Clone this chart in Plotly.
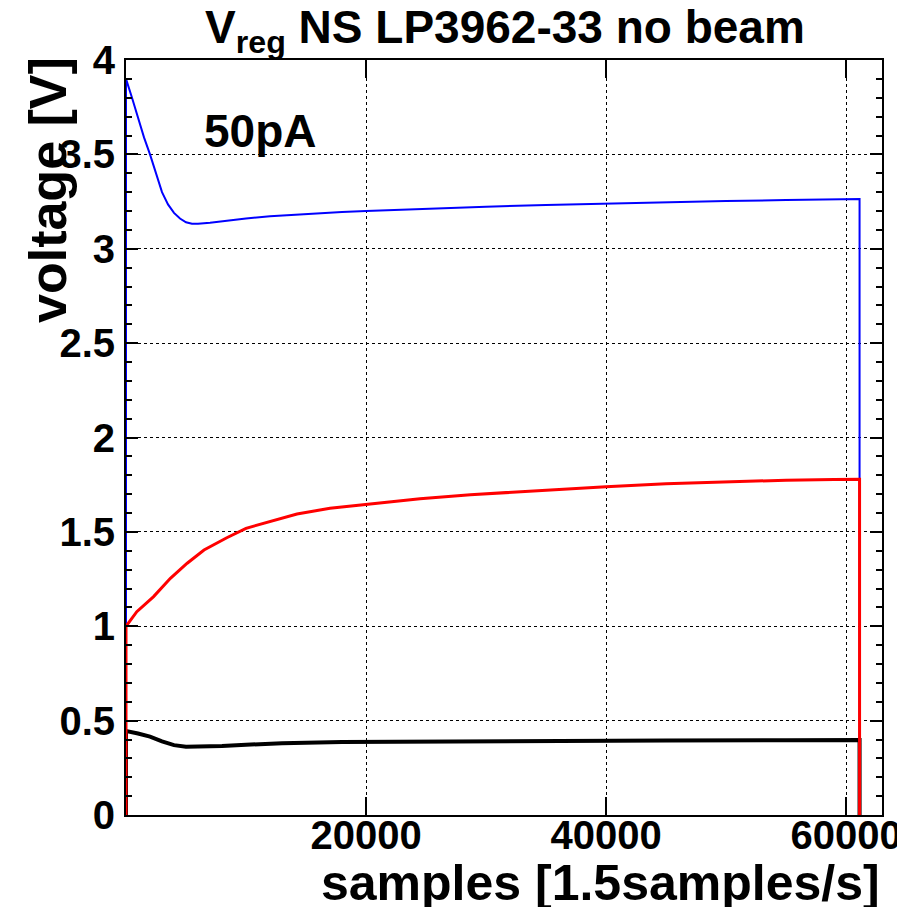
import plotly.graph_objects as go

# samples axis positions and voltages
blue_x = [0, 0, 500, 1000, 1500, 2000, 2500, 3000, 3500, 4000, 4500, 5000, 5500, 6000, 7000, 8000,
          10000, 12000, 15000, 18000, 20000, 25000, 30000, 35000, 40000, 45000, 50000, 55000, 60000,
          61130, 61130]
blue_y = [0, 3.90, 3.80, 3.69, 3.59, 3.50, 3.40, 3.30, 3.235, 3.19, 3.16, 3.14, 3.133, 3.133, 3.138,
          3.146, 3.16, 3.172, 3.185, 3.195, 3.20, 3.213, 3.223, 3.232, 3.24, 3.247, 3.253, 3.258, 3.263,
          3.264, 0]

red_x = [0, 0, 900, 2300, 3700, 5100, 6500, 8400, 10000, 12000, 14250, 17000, 20000, 24500, 28700,
         32000, 36000, 40000, 45000, 50000, 55000, 59000, 61130, 61130]
red_y = [0, 1.0, 1.077, 1.157, 1.254, 1.334, 1.404, 1.469, 1.519, 1.554, 1.595, 1.625, 1.646, 1.675,
         1.697, 1.710, 1.725, 1.739, 1.755, 1.766, 1.774, 1.778, 1.779, 0]

black_x = [0, 0, 1000, 2000, 3000, 4000, 5000, 6000, 8000, 10000, 13000, 18000, 25000, 35000, 45000,
           55000, 61130, 61130]
black_y = [0, 0.445, 0.432, 0.415, 0.39, 0.37, 0.362, 0.362, 0.366, 0.372, 0.380, 0.387, 0.390, 0.393,
           0.395, 0.396, 0.397, 0]

x_ticks = [20000, 40000, 60000]
y_ticks = [0, 0.5, 1, 1.5, 2, 2.5, 3, 3.5, 4]
y_tick_text = ["0", "0.5", "1", "1.5", "2", "2.5", "3", "3.5", "4"]

FONT = "Liberation Sans"

fig = go.Figure()
fig.add_trace(go.Scatter(x=black_x, y=black_y, mode="lines", line=dict(color="black", width=4)))
fig.add_trace(go.Scatter(x=blue_x, y=blue_y, mode="lines", line=dict(color="#0000ff", width=2)))
fig.add_trace(go.Scatter(x=red_x, y=red_y, mode="lines", line=dict(color="#ff0000", width=3)))

# page body has an 8px margin, so the figure is sized to fit inside the window
fig.update_layout(
    width=897, height=899,
    margin=dict(l=118, r=23, t=52, b=92),
    paper_bgcolor="white", plot_bgcolor="white",
    showlegend=False,
    font=dict(family=FONT, color="black"),
    title=dict(text="<b>V<sub>reg</sub> NS LP3962-33 no beam</b>",
               x=0.554, xanchor="center", y=0.979, yanchor="middle", yref="container",
               font=dict(size=46, family=FONT, color="black")),
)

fig.update_xaxes(
    range=[0, 63000], tickvals=x_ticks, ticktext=[f"<b>{v}</b>" for v in x_ticks],
    ticks="inside", ticklen=18, tickwidth=1.5, tickcolor="black",
    showline=True, linecolor="black", linewidth=2, mirror="ticks",
    showgrid=True, gridcolor="black", gridwidth=1, griddash="dot",
    zeroline=False, tickfont=dict(size=40, family=FONT, color="black"),
    ticklabelstandoff=-16, automargin=False,
)
fig.update_yaxes(
    range=[0, 4], tickvals=y_ticks, ticktext=[f"<b>{t}</b>" for t in y_tick_text],
    ticks="inside", ticklen=12, tickwidth=1.5, tickcolor="black",
    showline=True, linecolor="black", linewidth=2, mirror="ticks",
    showgrid=True, gridcolor="black", gridwidth=1, griddash="dot",
    zeroline=False, tickfont=dict(size=40, family=FONT, color="black"),
    ticklabelstandoff=1, automargin=False,
    minor=dict(dtick=0.1, ticks="inside", ticklen=6, tickwidth=1.5, tickcolor="black", showgrid=False),
)

fig.add_annotation(text="<b>samples [1.5samples/s]</b>", xref="paper", yref="paper",
                   x=1, y=0, xanchor="right", yanchor="top", yshift=-38, showarrow=False,
                   font=dict(size=50, family=FONT, color="black"))
fig.add_annotation(text="<b>voltage [V]</b>", xref="paper", yref="paper", textangle=-90,
                   x=0, y=1, xanchor="center", yanchor="top", xshift=-78, yshift=5, showarrow=False,
                   font=dict(size=52, family=FONT, color="black"))
fig.add_annotation(text="<b>50pA</b>", xref="paper", yref="paper",
                   x=0.1, y=0.906, xanchor="left", yanchor="middle", showarrow=False,
                   font=dict(size=46, family=FONT, color="black"))

fig.write_html("out.html")
